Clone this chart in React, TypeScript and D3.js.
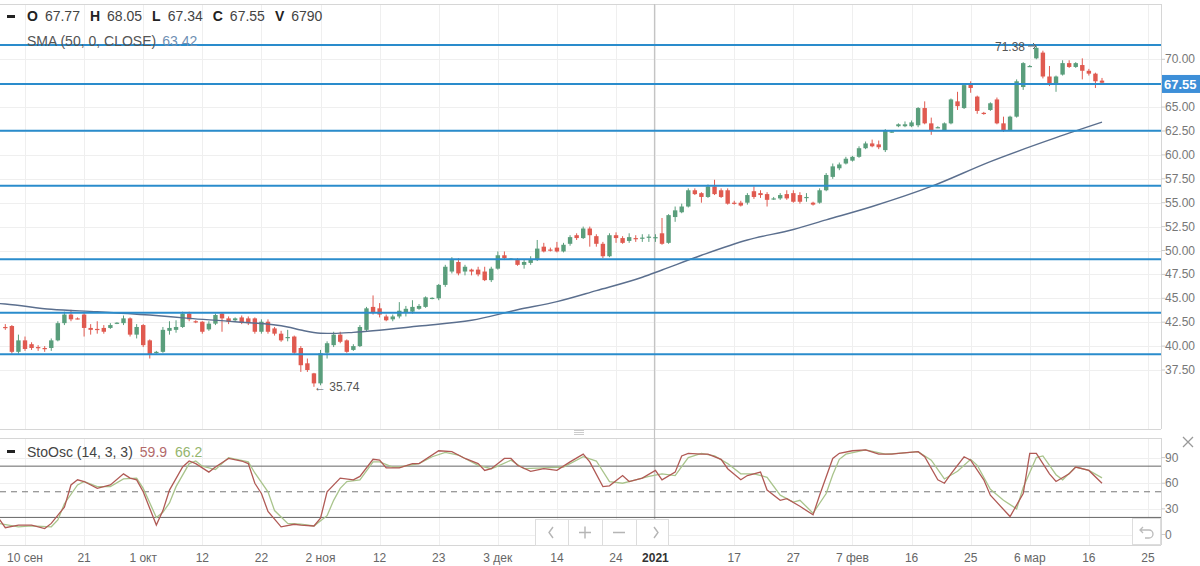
import { useEffect, useRef } from 'react';
import * as d3 from 'd3';

// OHLC per trading day (index 0 = left edge of the view)
const opens = [42.0,42.1,39.4,40.6,40.2,39.9,39.8,39.8,40.6,42.4,43.3,42.9,43.3,41.9,41.8,41.9,41.9,42.4,42.4,42.9,41.2,42.2,40.6,39.3,39.4,41.6,41.7,42.0,43.4,42.6,
  42.55,41.75,42.35,43.4,42.9,42.7,43.0,42.9,42.9,41.5,42.55,41.85,41.3,40.85,41.0,39.8,38.2,37.15,36.1,39.3,40.1,41.2,40.6,39.6,40.0,41.7,44.1,43.95,43.1,42.8,
  43.1,43.5,43.6,43.9,44.1,45.0,45.0,46.4,47.8,48.8,47.8,48.0,48.0,47.8,46.9,48.1,49.5,49.1,49.0,48.5,48.7,49.0,50.4,50.1,50.3,49.9,50.7,51.6,51.3,52.3,
  51.5,50.7,49.4,51.6,51.3,51.0,51.3,51.3,51.4,51.4,51.8,50.8,53.5,54.0,54.6,56.3,56.0,55.6,56.7,56.3,56.3,55.0,55.0,55.0,56.2,56.0,55.9,55.4,55.45,55.9,
  56.0,55.8,55.6,55.0,55.0,56.3,57.7,58.6,59.1,59.4,59.8,60.7,61.2,61.1,60.5,62.4,63.0,63.0,63.0,63.1,64.9,63.3,62.9,62.6,63.3,65.6,64.9,67.5,66.1,64.4,
  64.7,65.8,63.3,62.6,64.0,67.1,69.2,70.1,70.7,68.2,67.5,68.4,69.6,69.2,69.4,68.8,68.5,67.77];
const highs = [42.3,42.2,41.2,41.0,40.4,40.1,40.0,40.8,42.6,43.6,43.8,43.0,43.6,42.3,42.6,42.2,42.4,42.5,43.2,43.0,42.3,42.3,40.7,39.5,42.0,42.6,42.7,43.6,43.6,42.7,
  42.6,42.6,43.4,43.5,43.1,43.0,43.2,43.1,43.0,42.8,42.8,42.0,41.6,41.7,41.1,40.0,38.7,37.2,39.6,40.5,41.5,41.5,40.7,40.2,42.2,44.1,45.3,44.5,43.3,43.3,
  44.6,44.2,44.8,44.4,45.2,45.1,46.5,48.5,49.3,49.2,48.5,48.1,48.3,48.3,48.3,49.9,49.9,49.2,49.2,49.0,49.4,51.1,50.8,50.3,50.9,50.8,51.6,51.8,52.5,52.5,
  51.7,50.9,51.8,51.9,51.5,51.8,51.6,51.7,51.7,51.7,53.4,53.8,54.6,54.9,56.5,56.5,56.1,56.9,57.4,56.5,56.5,55.2,55.2,56.0,56.7,56.3,56.1,55.6,56.0,56.3,
  56.3,56.1,56.0,55.1,56.5,58.1,59.1,59.2,59.8,59.9,60.9,61.4,61.6,61.5,62.7,62.6,63.3,63.5,63.6,65.0,65.6,63.9,63.0,63.4,65.9,66.6,67.5,67.7,66.2,64.5,
  65.5,66.0,64.0,64.1,67.9,69.7,69.4,71.38,70.9,69.3,68.3,69.9,69.9,69.7,70.1,69.0,68.6,68.05];
const lows = [41.7,39.2,39.2,39.5,39.6,39.5,39.4,39.5,40.5,42.2,42.6,42.8,41.0,41.2,41.3,41.3,41.8,42.3,42.2,41.0,40.8,39.9,38.7,39.2,39.3,41.2,41.4,41.9,42.6,42.4,
  41.3,41.6,42.2,41.5,42.3,42.6,42.3,42.2,41.3,41.3,41.3,41.1,40.45,40.5,39.1,37.3,37.3,35.74,35.9,38.7,39.9,40.3,39.3,39.5,39.9,41.5,43.3,43.0,42.6,42.6,
  42.9,43.1,43.4,43.8,44.0,44.9,44.8,46.2,47.6,47.4,47.4,47.4,47.3,46.8,46.7,48.0,49.0,49.0,48.4,48.1,48.5,48.9,49.8,49.9,49.8,49.8,50.5,51.1,51.2,50.4,
  50.4,49.2,49.3,50.8,50.7,50.8,50.9,50.9,50.9,50.9,50.6,50.7,53.0,53.9,54.5,55.8,55.0,55.5,55.8,55.5,54.8,54.8,54.6,54.8,55.4,55.5,54.6,55.3,55.3,55.3,
  55.0,54.9,55.1,54.7,54.9,56.2,57.5,58.4,59.0,59.3,59.7,60.6,60.8,60.6,60.3,62.3,62.9,62.9,62.9,62.9,63.2,62.1,62.8,62.5,63.2,64.7,64.8,66.5,64.3,64.2,
  64.6,63.2,62.4,62.5,63.9,66.8,69.2,70.0,68.0,67.2,66.6,68.3,69.1,69.1,67.9,68.3,67.0,67.34];
const closes = [41.9,39.4,40.6,39.7,39.8,39.8,39.7,40.6,42.4,43.3,42.8,42.85,41.9,41.7,41.7,41.5,42.2,42.45,42.9,41.2,42.0,40.1,39.1,39.4,41.7,41.9,42.0,43.4,42.8,42.5,
  41.5,42.35,43.25,42.9,42.55,42.9,42.45,42.4,41.5,42.55,41.5,41.3,40.6,40.95,39.3,38.0,37.5,36.1,39.25,40.3,41.2,40.45,39.4,40.0,42.0,43.95,43.5,43.3,42.7,43.1,
  43.7,43.9,44.1,44.2,45.1,45.05,46.4,48.3,49.0,47.6,48.3,47.8,47.5,46.9,48.1,49.5,49.2,49.15,48.5,48.8,49.1,50.2,49.9,50.05,49.9,50.6,51.4,51.3,52.3,51.6,
  50.7,49.4,51.6,51.3,50.8,51.4,51.25,51.35,51.45,51.4,50.7,53.7,54.2,54.6,56.3,55.9,55.6,56.7,55.9,55.6,54.9,54.95,54.7,55.8,55.6,55.8,55.3,55.45,55.8,55.45,
  55.1,55.1,55.6,54.8,56.3,57.9,58.8,59.0,59.6,59.8,60.7,61.2,60.9,60.8,62.6,62.45,63.2,63.2,63.4,64.9,63.3,62.6,62.9,63.3,65.8,65.1,67.3,67.0,64.6,64.35,
  65.4,63.3,62.6,64.0,67.7,69.6,69.3,71.2,68.2,67.5,68.2,69.6,69.2,69.6,68.8,68.5,67.7,67.55];

// SMA(50): [day index, value]
const smaPoints: [number, number][] = [[-1,44.45],[0,44.4],[7,43.85],[14,43.6],[22,43.25],[28,42.9],[35,42.55],[43,42.0],[45,41.68],[48,41.35],[50,41.33],[53,41.44],[56,41.6],
  [63,42.1],[71,42.7],[78,43.8],[84,44.65],[90,45.8],[97,47.2],[100,47.96],[106,49.5],[113,51.1],[120,52.2],[125,53.2],[132,54.6],[141,56.7],[150,59.3],[160,61.8],[167,63.42]];

// Stochastic %K and %D: [day index, value]
const stoK: [number, number][] = [[-1,19],[0,8],[2,11],[4,11],[6,7],[7,13],[9,32],[10,58],[11,64],[12,62],[14,54],[16,58],[18,71],[19,66],[20,64],[21,50],[23,11],[24,28],[25,52],
  [27,79],[28,86],[29,83],[31,73],[32,79],[34,89],[36,86],[37,83],[38,60],[39,48],[40,27],[42,9],[44,12],[45,11],[47,10],[48,19],[49,50],[51,66],[53,64],[54,68],[56,88],[57,87],
  [58,78],[60,78],[62,83],[63,83],[66,98],[68,97],[70,89],[72,83],[73,75],[74,77],[76,89],[77,89],[78,81],[80,74],[82,77],[84,75],[86,85],[88,94],[89,85],[91,56],[92,57],[94,69],
  [95,62],[97,66],[99,75],[100,64],[102,73],[103,92],[104,95],[106,94],[107,94],[109,88],[110,77],[112,64],[113,69],[115,73],[116,52],[118,40],[119,42],[121,33],[123,23],[124,46],
  [126,89],[127,95],[129,98],[131,99],[133,94],[135,94],[136,95],[139,97],[140,91],[142,64],[143,60],[144,71],[146,91],[147,87],[149,64],[150,46],[153,21],[155,48],[156,95],
  [157,95],[159,71],[160,62],[162,71],[163,79],[165,75],[167,59.9]];
const stoD: [number, number][] = [[-1,13],[2,9],[4,10],[7,9],[8,17],[9,36],[11,58],[12,62],[14,56],[16,56],[18,65],[20,66],[21,54],[23,20],[24,26],[25,37],[26,56],[28,83],
  [29,86],[30,80],[32,76],[34,90],[37,85],[38,72],[40,50],[41,28],[43,13],[45,12],[47,10],[49,22],[50,40],[51,54],[52,62],[54,64],[56,85],[57,85],[59,79],[60,79],[63,83],
  [65,91],[67,96],[69,93],[72,81],[74,77],[75,80],[77,87],[79,77],[82,78],[85,79],[88,91],[90,86],[92,62],[94,60],[96,64],[98,68],[100,71],[102,69],[104,90],[106,95],
  [108,92],[110,83],[112,71],[114,71],[116,67],[118,46],[120,38],[121,40],[123,25],[125,48],[126,70],[127,88],[128,94],[131,99],[134,94],[136,95],[139,97],[141,87],
  [143,65],[145,74],[147,88],[148,81],[150,53],[152,40],[154,30],[155,55],[157,90],[158,92],[160,70],[161,64],[163,79],[165,75],[167,66.2]];

// user drawn horizontal levels
const levels = [71.5, 67.42, 62.53, 56.78, 49.08, 43.49, 39.14];

const priceTicks = [70, 67.5, 65, 62.5, 60, 57.5, 55, 52.5, 50, 47.5, 45, 42.5, 40, 37.5];
const stoTicks = [90, 60, 30, 0];
const dateTicks: [number, string][] = [[3,'10 сен'],[12,'21'],[21,'1 окт'],[30,'12'],[39,'22'],[48,'2 ноя'],[57,'12'],[66,'23'],[75,'3 дек'],[84,'14'],
  [93,'24'],[99,'2021'],[111,'17'],[120,'27'],[129,'7 фев'],[138,'16'],[147,'25'],[156,'6 мар'],[165,'16'],[174,'25']];

const header = [['O','67.77'],['H','68.05'],['L','67.34'],['C','67.55'],['V','6790']];

const FONT = 'Arial, "Liberation Sans", sans-serif';
const UP = '#5a9e7c';
const DOWN = '#e05a50';
const LEVEL = '#2a8ccc';

function Chart() {
  const svgRef = useRef<SVGSVGElement>(null);

  useEffect(() => {
    if (!svgRef.current) return;
    const svg = d3.select(svgRef.current);
    svg.selectAll('*').remove();

    const plotRight = 1161;
    const mainTop = 4, mainBottom = 429;
    const stoTop = 438, stoBottom = 545;

    const x = d3.scaleLinear().domain([0, 167]).range([5.3, 1102]);
    const y = d3.scaleLinear().domain([37.5, 70]).range([370, 59.3]);
    const ys = d3.scaleLinear().domain([0, 90]).range([534.5, 457.6]);

    const width = (sel: d3.Selection<SVGTextElement, unknown, null, undefined>) =>
      (sel.node() as SVGTextElement).getComputedTextLength();

    const defs = svg.append('defs');
    defs.append('clipPath').attr('id', 'clipMain').append('rect')
      .attr('x', 0).attr('y', mainTop).attr('width', plotRight).attr('height', mainBottom - mainTop);
    defs.append('clipPath').attr('id', 'clipSto').append('rect')
      .attr('x', 0).attr('y', stoTop).attr('width', plotRight).attr('height', stoBottom - stoTop);

    svg.append('rect').attr('width', 1200).attr('height', 566).attr('fill', '#fff');

    // grid
    const grid = svg.append('g').attr('stroke', '#efefef').attr('stroke-width', 1);
    priceTicks.forEach(t => {
      grid.append('line').attr('x1', 0).attr('x2', plotRight).attr('y1', Math.round(y(t)) + 0.5).attr('y2', Math.round(y(t)) + 0.5);
    });
    stoTicks.forEach(t => {
      grid.append('line').attr('x1', 0).attr('x2', plotRight).attr('y1', Math.round(ys(t)) + 0.5).attr('y2', Math.round(ys(t)) + 0.5);
    });
    dateTicks.forEach(([i]) => {
      const xx = Math.round(x(i)) + 0.5;
      grid.append('line').attr('x1', xx).attr('x2', xx).attr('y1', mainTop).attr('y2', mainBottom);
      grid.append('line').attr('x1', xx).attr('x2', xx).attr('y1', stoTop).attr('y2', stoBottom);
    });

    // frames
    const frame = svg.append('g').attr('stroke', '#d6d6d6').attr('fill', 'none');
    frame.append('line').attr('x1', 0).attr('x2', plotRight).attr('y1', mainTop + 0.5).attr('y2', mainTop + 0.5);
    frame.append('line').attr('x1', 0).attr('x2', plotRight).attr('y1', mainBottom + 0.5).attr('y2', mainBottom + 0.5);
    frame.append('line').attr('x1', 0).attr('x2', plotRight).attr('y1', stoTop + 0.5).attr('y2', stoTop + 0.5);
    frame.append('line').attr('x1', 0).attr('x2', plotRight).attr('y1', stoBottom + 0.5).attr('y2', stoBottom + 0.5);
    frame.append('line').attr('x1', plotRight + 0.5).attr('x2', plotRight + 0.5).attr('y1', mainTop).attr('y2', mainBottom);
    frame.append('line').attr('x1', plotRight + 0.5).attr('x2', plotRight + 0.5).attr('y1', stoTop).attr('y2', stoBottom);

    // year divider
    const yx = Math.round(x(99)) - 0.5;
    svg.append('line').attr('x1', yx).attr('x2', yx).attr('y1', mainTop).attr('y2', stoBottom)
      .attr('stroke', '#c4c4c4').attr('stroke-width', 1.2);

    // candles
    const main = svg.append('g').attr('clip-path', 'url(#clipMain)');
    const bodyW = 4.4;
    closes.forEach((c, i) => {
      const o = opens[i];
      const col = c >= o ? UP : DOWN;
      const cx = x(i);
      main.append('line').attr('x1', cx).attr('x2', cx).attr('y1', y(highs[i])).attr('y2', y(lows[i]))
        .attr('stroke', col).attr('stroke-width', 1);
      const top = y(Math.max(o, c));
      const h = Math.max(1.2, Math.abs(y(o) - y(c)));
      main.append('rect').attr('x', cx - bodyW / 2).attr('y', top).attr('width', bodyW).attr('height', h).attr('fill', col);
    });

    // SMA
    const line = d3.line<[number, number]>().x(d => x(d[0])).y(d => y(d[1])).curve(d3.curveMonotoneX);
    main.append('path').datum(smaPoints).attr('d', line).attr('fill', 'none')
      .attr('stroke', '#5b6f8e').attr('stroke-width', 1.4);

    // levels
    levels.forEach(l => {
      svg.append('line').attr('x1', 0).attr('x2', plotRight).attr('y1', y(l)).attr('y2', y(l))
        .attr('stroke', LEVEL).attr('stroke-width', 2);
    });

    // annotations
    svg.append('text').attr('x', 314).attr('y', 391).text('← 35.74')
      .style('font-family', FONT).style('font-size', '12px').style('fill', '#555');
    svg.append('text').attr('x', 995).attr('y', 51).text('71.38')
      .style('font-family', FONT).style('font-size', '12px').style('fill', '#555');
    svg.append('path').attr('d', 'M1028,46 L1036,46 M1033,43 L1036,46 L1033,49')
      .attr('stroke', '#666').attr('fill', 'none').attr('stroke-width', 1);

    // price axis
    const pa = svg.append('g').style('font-family', FONT).style('font-size', '12px');
    priceTicks.forEach(t => {
      pa.append('line').attr('x1', plotRight).attr('x2', plotRight + 4).attr('y1', y(t)).attr('y2', y(t)).attr('stroke', '#ccc');
      pa.append('text').attr('x', 1165).attr('y', y(t) + 4).text(d3.format('.2f')(t)).style('fill', '#777');
    });
    const lastY = y(levels[1]);
    pa.append('rect').attr('x', 1162).attr('y', lastY - 9).attr('width', 38).attr('height', 18).attr('fill', '#3d8fd8');
    pa.append('text').attr('x', 1164).attr('y', lastY + 5).text(d3.format('.2f')(closes[closes.length - 1]))
      .style('fill', '#fff').style('font-weight', 'bold').style('font-size', '13px');

    // header
    const hd = svg.append('g').style('font-family', FONT).style('font-size', '14px');
    hd.append('rect').attr('x', 7).attr('y', 15).attr('width', 8).attr('height', 3).attr('fill', '#222');
    let hx = 27;
    header.forEach(([k, v]) => {
      const kt = hd.append('text').attr('x', hx).attr('y', 21).text(k).style('font-weight', 'bold').style('fill', '#222');
      const kw = width(kt);
      const vt = hd.append('text').attr('x', hx + kw + 7).attr('y', 21).text(v).style('fill', '#444');
      hx = hx + kw + 7 + width(vt) + 10;
    });
    const smaT = hd.append('text').attr('x', 27).attr('y', 46).text('SMA (50, 0, CLOSE)').style('fill', '#555');
    hd.append('text').attr('x', 27 + width(smaT) + 6).attr('y', 46).text('63.42').style('fill', '#6f8fb3');

    // stochastic
    const sto = svg.append('g').attr('clip-path', 'url(#clipSto)');
    sto.append('line').attr('x1', 0).attr('x2', plotRight).attr('y1', ys(80)).attr('y2', ys(80)).attr('stroke', '#666');
    sto.append('line').attr('x1', 0).attr('x2', plotRight).attr('y1', ys(20)).attr('y2', ys(20)).attr('stroke', '#666');
    sto.append('line').attr('x1', 0).attr('x2', plotRight).attr('y1', ys(50)).attr('y2', ys(50))
      .attr('stroke', '#777').attr('stroke-dasharray', '6,5');
    const sl = d3.line<[number, number]>().x(d => x(d[0])).y(d => ys(d[1]));
    sto.append('path').datum(stoD).attr('d', sl).attr('fill', 'none').attr('stroke', '#a9c48c').attr('stroke-width', 1.3);
    sto.append('path').datum(stoK).attr('d', sl).attr('fill', 'none').attr('stroke', '#b05a55').attr('stroke-width', 1.3);

    const sh = svg.append('g').style('font-family', FONT).style('font-size', '14px');
    sh.append('rect').attr('x', 7).attr('y', 450).attr('width', 8).attr('height', 3).attr('fill', '#222');
    const stT = sh.append('text').attr('x', 27).attr('y', 457).text('StoOsc (14, 3, 3)').style('fill', '#444');
    const kx = 27 + width(stT) + 7;
    const kT = sh.append('text').attr('x', kx).attr('y', 457).text('59.9').style('fill', '#b26a6a');
    sh.append('text').attr('x', kx + width(kT) + 8).attr('y', 457).text('66.2').style('fill', '#94b56e');

    const sa = svg.append('g').style('font-family', FONT).style('font-size', '12px');
    stoTicks.forEach(t => {
      sa.append('line').attr('x1', plotRight).attr('x2', plotRight + 4).attr('y1', ys(t)).attr('y2', ys(t)).attr('stroke', '#ccc');
      sa.append('text').attr('x', 1165).attr('y', ys(t) + 4).text(String(t)).style('fill', '#777');
    });
    svg.append('path').attr('d', 'M1183,437 L1193,447 M1193,437 L1183,447').attr('stroke', '#999').attr('stroke-width', 1.3);

    // date axis
    const da = svg.append('g').style('font-family', FONT).style('font-size', '12px');
    dateTicks.forEach(([i, label]) => {
      da.append('text').attr('x', x(i)).attr('y', 562).attr('text-anchor', 'middle').text(label)
        .style('fill', label === '2021' ? '#333' : '#666').style('font-weight', label === '2021' ? 'bold' : 'normal');
    });

    // panel drag handle
    [430.5, 432.5, 434.5].forEach(hy => {
      svg.append('line').attr('x1', 574).attr('x2', 584).attr('y1', hy).attr('y2', hy).attr('stroke', '#ccc');
    });

    // navigation buttons
    const nav = svg.append('g');
    nav.append('rect').attr('x', 535.5).attr('y', 519.5).attr('width', 133).attr('height', 26)
      .attr('fill', '#fff').attr('stroke', '#ddd');
    [568.5, 602.5, 636.5].forEach(bx => {
      nav.append('line').attr('x1', bx).attr('x2', bx).attr('y1', 520).attr('y2', 545).attr('stroke', '#ddd');
    });
    nav.append('path').attr('d', 'M553,527 L549,532.5 L553,538 M654,527 L658,532.5 L654,538 M579,532.5 L591,532.5 M585,526.5 L585,538.5 M613,532.5 L625,532.5')
      .attr('stroke', '#b5b5b5').attr('stroke-width', 1.4).attr('fill', 'none');

    // reset button
    svg.append('rect').attr('x', 1132.5).attr('y', 518.5).attr('width', 28).attr('height', 26)
      .attr('fill', '#fff').attr('stroke', '#ddd');
    svg.append('path').attr('d', 'M1143,527 L1140,530 L1143,533 M1140,530 L1149,530 A4,4 0 0 1 1149,538 L1145,538')
      .attr('stroke', '#bbb').attr('stroke-width', 1.3).attr('fill', 'none');
  }, []);

  return <svg ref={svgRef} width={1200} height={566} style={{ display: 'block' }} />;
}

export default function App() {
  return (
    <div style={{ position: 'absolute', left: 0, top: 0, width: 1200, height: 566, background: '#fff' }}>
      <Chart />
    </div>
  );
}
